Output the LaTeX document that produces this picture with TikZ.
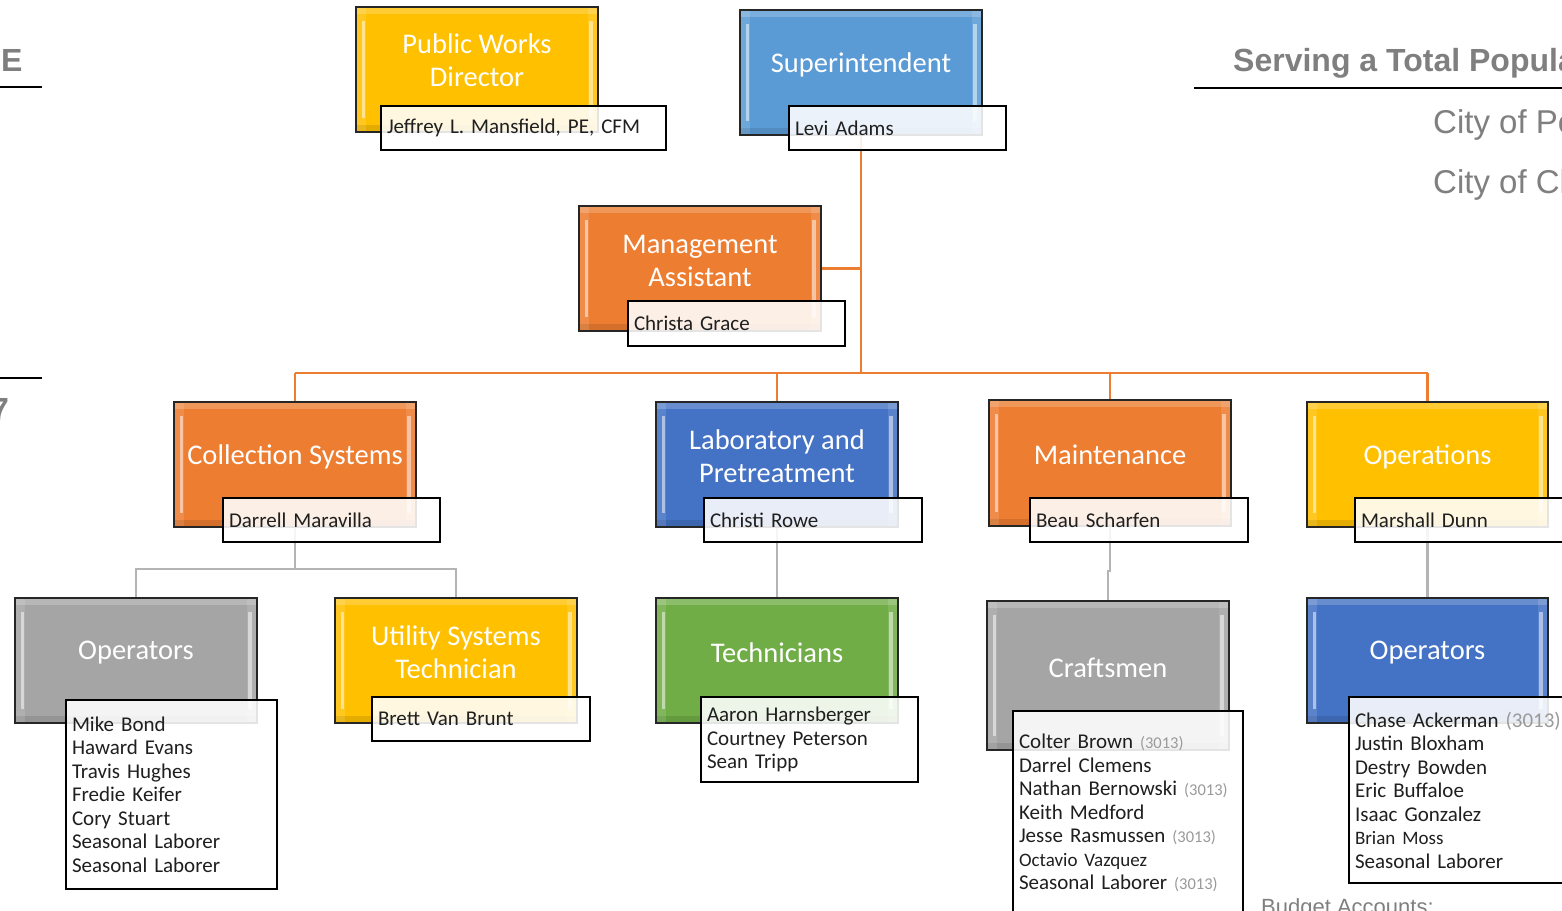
\documentclass[tikz,border=0pt]{standalone}
\usepackage{fontspec}
\setmainfont{Carlito}
\newfontfamily\arialf{Liberation Sans}
\usetikzlibrary{backgrounds}
\frenchspacing
\definecolor{cYellow}{HTML}{FFC000}
\definecolor{cOrange}{HTML}{ED7D31}
\definecolor{cLBlue}{HTML}{5B9BD5}
\definecolor{cBlue}{HTML}{4472C4}
\definecolor{cGray}{HTML}{A5A5A5}
\definecolor{cGreen}{HTML}{70AD47}
\definecolor{cHead}{HTML}{7F7F7F}
\definecolor{cConn}{HTML}{B4B4B4}
\definecolor{cNum}{HTML}{9A9A9A}
\newcommand\orgboxfont{\fontsize{28.5}{33}\selectfont}
\newcommand\orgnamefont{\fontsize{21}{23.5}\selectfont\frenchspacing}
\newcommand\orgnum[1]{{\fontsize{16.5}{16}\selectfont\color{cNum}(#1)}}
\newcommand\orgsmall[1]{{\fontsize{19}{19}\selectfont #1}}
\tikzset{
  mainbox/.style={draw=black!85, line width=1.5pt, minimum width=242pt, minimum height=125pt, inner sep=0pt,
    path picture={
      \coordinate (bvA) at (path picture bounding box.north west);
      \coordinate (bvB) at (path picture bounding box.south east);
      \fill[white, opacity=.2] (bvA) rectangle ([yshift=-7pt]bvA -| bvB);
      \fill[black, opacity=.1] ([yshift=7pt]bvA |- bvB) rectangle (bvB);
      \fill[white, opacity=.12] (bvA) rectangle ([xshift=10pt]bvA |- bvB);
      \fill[white, opacity=.12] ([xshift=-10pt]bvB |- bvA) rectangle (bvB);
      \fill[white, opacity=.5] ([xshift=5.5pt,yshift=-14pt]bvA) rectangle ([xshift=9pt,yshift=14pt]bvA |- bvB);
      \fill[white, opacity=.5] ([xshift=-9pt,yshift=-14pt]bvB |- bvA) rectangle ([xshift=-5.5pt,yshift=14pt]bvB);
    }},
  boxtext/.style={text=white, font=\orgboxfont, align=center, inner sep=0pt, yshift=8pt},
  namebox/.style={draw=black, line width=1.5pt, fill=white, fill opacity=.88, text opacity=1,
    align=left, inner xsep=6pt, inner ysep=0pt, font=\orgnamefont, text=black!88},
  oline/.style={draw=cOrange, line width=2.5pt},
  gline/.style={draw=cConn, line width=2.5pt},
  headtext/.style={text=cHead, inner sep=0pt, anchor=base west},
}
\begin{document}
\begin{tikzpicture}[x=1pt, y=-1pt]
\useasboundingbox (0,0) rectangle (1562,910);
\clip (0,0) rectangle (1562,910);

% side headings
\node[headtext, font=\arialf\bfseries\fontsize{32}{36}\selectfont] (hE) at (1,71) {E};
\draw[line width=2pt] (0,87) -- (42,87);
\draw[line width=2pt] (0,378) -- (42,378);
\node[headtext, font=\arialf\bfseries\fontsize{32}{36}\selectfont, anchor=base east] (h7) at (9,420) {7};
\node[headtext, font=\arialf\bfseries\fontsize{32}{36}\selectfont] (hS) at (1233,71) {Serving a Total Popula};
\draw[line width=2.2pt] (1194,88) -- (1562,88);
\node[headtext, font=\arialf\fontsize{33}{36}\selectfont] (hP) at (1433,133) {City of Pe};
\node[headtext, font=\arialf\fontsize{33}{36}\selectfont] (hC) at (1433,193) {City of Ch};
\node[headtext, font=\arialf\fontsize{22}{24}\selectfont] (hB) at (1261,914) {Budget Accounts:};

% boxes
\node[mainbox, fill=cYellow] (pwd) at (477,69.5) {};
\node[mainbox, fill=cLBlue] (sup) at (861,72.5) {};
\node[mainbox, fill=cOrange] (mgmt) at (700,268.5) {};
\node[mainbox, fill=cOrange] (coll) at (295,464.5) {};
\node[mainbox, fill=cBlue] (lab) at (777,464.5) {};
\node[mainbox, fill=cOrange, minimum height=126pt] (maint) at (1110,463) {};
\node[mainbox, fill=cYellow, minimum width=241pt] (ops) at (1427.5,464.5) {};
\node[mainbox, fill=cGray] (opA) at (136,660.5) {};
\node[mainbox, fill=cYellow] (ust) at (456,660.5) {};
\node[mainbox, fill=cGreen] (tech) at (777,660.5) {};
\node[mainbox, fill=cGray, minimum height=149pt] (craft) at (1108,675.5) {};
\node[mainbox, fill=cBlue, minimum width=241pt] (opB) at (1427.5,660.5) {};

% connectors (behind the boxes)
\coordinate (busC) at (861,373);
\coordinate (cJ) at (295,569);
\coordinate (mJ) at (1110,571);
\begin{scope}[on background layer]
\draw[oline] (sup.south) -- (sup.south |- busC);
\draw[oline] (mgmt.east) -- (mgmt.east -| busC);
\draw[oline] (coll.north |- busC) -- (ops.north |- busC);
\draw[oline] (coll.north) -- (coll.north |- busC);
\draw[oline] (lab.north) -- (lab.north |- busC);
\draw[oline] (maint.north) -- (maint.north |- busC);
\draw[oline] (ops.north) -- (ops.north |- busC);
\draw[gline] (coll.south) -- (cJ);
\draw[gline] (opA.north) -- (opA.north |- cJ) -- (ust.north |- cJ) -- (ust.north);
\draw[gline] (lab.south) -- (tech.north);
\draw[gline] (maint.south) -- (mJ) -| (craft.north);
\draw[gline] (ops.south) -- (opB.north);
\end{scope}

% box titles
\node[boxtext, yshift=1.5pt] (pwdT) at (pwd.center) {Public Works\\Director};
\node[boxtext] (supT) at (sup.center) {Superintendent};
\node[boxtext] (mgmtT) at (mgmt.center) {Management\\Assistant};
\node[boxtext] (collT) at (coll.center) {Collection Systems};
\node[boxtext] (labT) at (lab.center) {Laboratory and\\Pretreatment};
\node[boxtext] (maintT) at (maint.center) {Maintenance};
\node[boxtext] (opsT) at (ops.center) {Operations};
\node[boxtext] (opAT) at (opA.center) {Operators};
\node[boxtext] (ustT) at (ust.center) {Utility Systems\\Technician};
\node[boxtext] (techT) at (tech.center) {Technicians};
\node[boxtext] (craftT) at (craft.center) {Craftsmen};
\node[boxtext] (opBT) at (opB.center) {Operators};

% name boxes
\node[namebox, text width=273pt, minimum height=44pt] (pwdN) at (523.5,128) {Jeffrey L. Mansfield, PE, CFM};
\node[namebox, text width=205pt, minimum height=44pt] (supN) at (897.5,128) {Levi Adams};
\node[namebox, text width=205pt, minimum height=45pt] (mgmtN) at (736.5,323.5) {Christa Grace};
\node[namebox, text width=205pt, minimum height=44pt] (collN) at (331.5,520) {Darrell Maravilla};
\node[namebox, text width=206pt, minimum height=44pt] (labN) at (813,520) {Christi Rowe};
\node[namebox, text width=206pt, minimum height=44pt] (maintN) at (1139,520) {Beau Scharfen};
\node[namebox, text width=206pt, minimum height=44pt] (opsN) at (1464,520) {Marshall Dunn};
\node[namebox, text width=199pt, minimum height=189pt] (opAN) at (171.5,794.5)
  {Mike Bond\\Haward Evans\\Travis Hughes\\Fredie Keifer\\Cory Stuart\\Seasonal Laborer\\Seasonal Laborer};
\node[namebox, text width=206pt, minimum height=44pt] (ustN) at (481,719) {Brett Van Brunt};
\node[namebox, text width=205pt, minimum height=85pt] (techN) at (809.5,739.5)
  {Aaron Harnsberger\\Courtney Peterson\\Sean Tripp};
\node[namebox, text width=218pt, minimum height=204pt] (craftN) at (1128,813)
  {Colter Brown \orgnum{3013}\\Darrel Clemens\\Nathan Bernowski \orgnum{3013}\\Keith Medford\\Jesse Rasmussen \orgnum{3013}\\\orgsmall{Octavio Vazquez}\\Seasonal Laborer \orgnum{3013}};
\node[namebox, text width=206pt, minimum height=186pt] (opBN) at (1458,790)
  {Chase Ackerman {\color{cNum}(3013)}\\Justin Bloxham\\Destry Bowden\\Eric Buffaloe\\Isaac Gonzalez\\\orgsmall{Brian Moss}\\Seasonal Laborer};
\end{tikzpicture}
\end{document}
